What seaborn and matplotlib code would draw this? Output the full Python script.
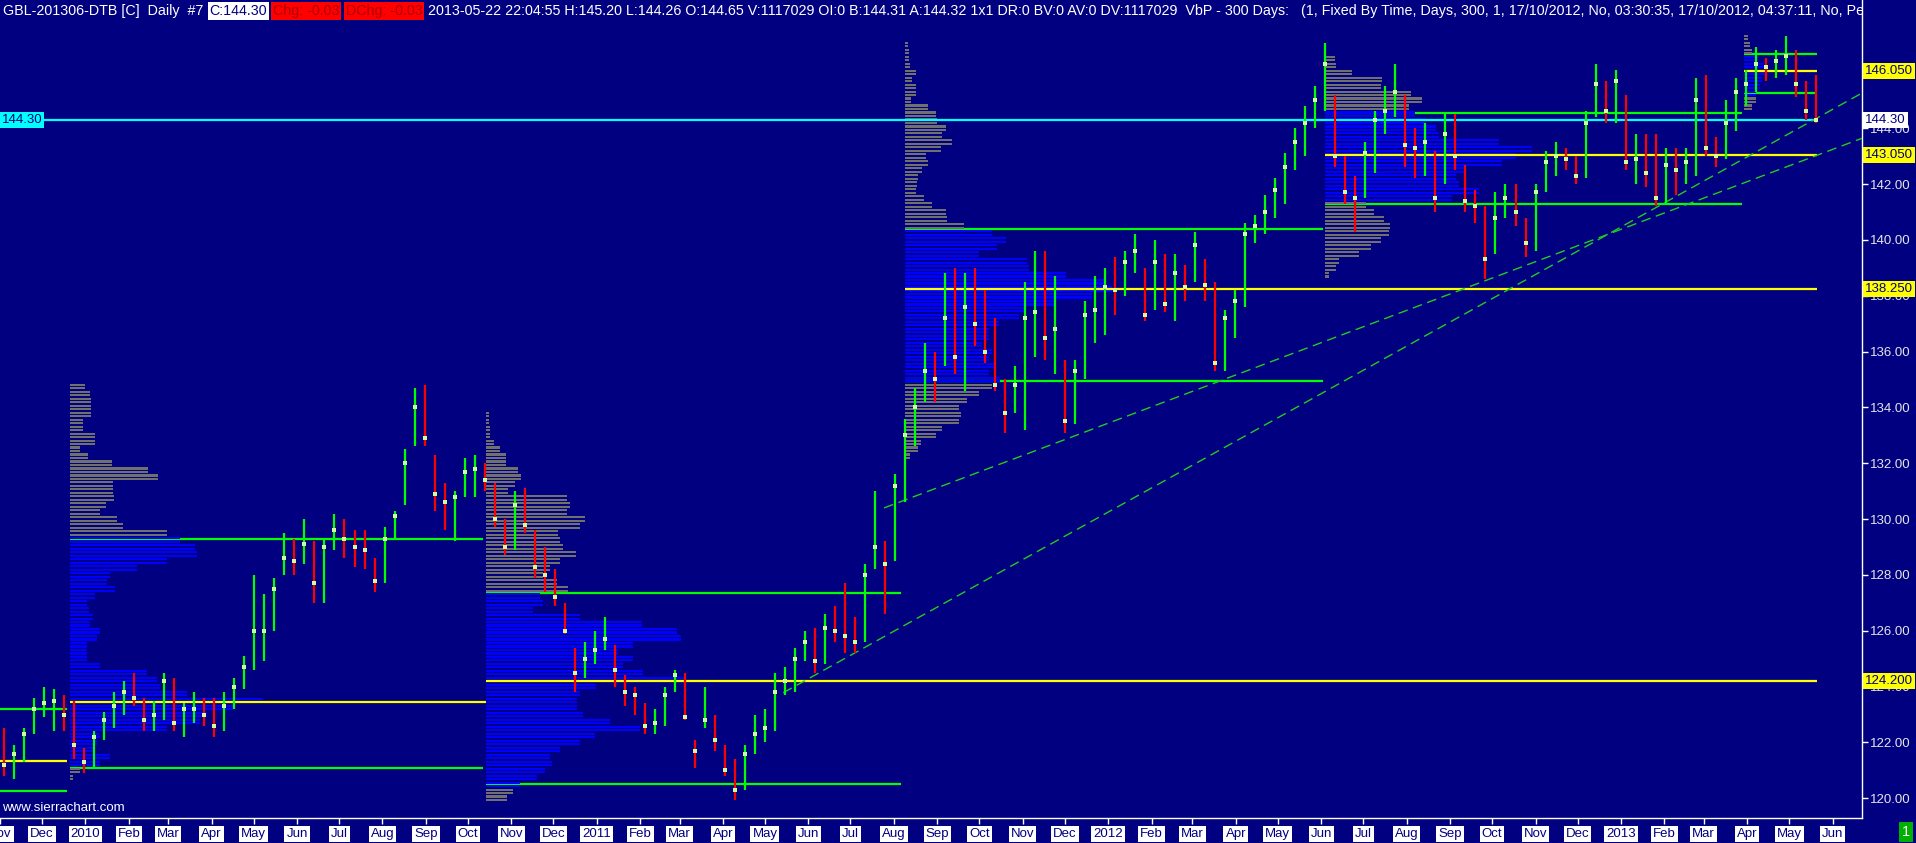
import matplotlib
matplotlib.use('Agg')
import matplotlib.pyplot as plt
import matplotlib.dates as mdates
import seaborn as sns
import numpy as np
import pandas as pd

# weekly bars (Nov 2009 - May 2013)
close = [121.2, 121.6, 122.3, 123.2, 123.4, 123.5, 123.0, 121.9, 121.3, 122.2,
         122.8, 123.3, 123.8, 123.6, 122.8, 123.0, 124.2, 122.7, 123.2, 123.2,
         123.0, 122.6, 123.3, 124.0, 124.7, 126.0, 126.0, 127.5, 128.6, 128.5,
         129.1, 127.7, 129.0, 129.6, 129.3, 129.0, 128.9, 127.8, 129.3, 130.1,
         132.0, 134.0, 132.9, 130.9, 130.6, 130.8, 131.7, 131.8, 131.4, 130.0,
         129.0, 130.5, 129.8, 128.3, 128.0, 127.2, 126.0, 124.5, 125.0, 125.3,
         125.7, 124.6, 123.8, 123.7, 122.6, 122.7, 123.7, 124.4, 122.9, 121.7,
         122.8, 122.1, 121.0, 120.3, 121.6, 122.3, 122.5, 123.8, 124.2, 125.0,
         125.6, 124.9, 126.1, 126.0, 125.8, 125.6, 128.0, 129.0, 128.4, 131.2,
         133.0, 134.0, 135.3, 135.0, 137.2, 135.8, 137.6, 137.0, 136.0, 134.8,
         133.8, 134.8, 137.2, 137.4, 136.5, 136.8, 133.5, 135.3, 137.3, 137.5,
         138.3, 138.2, 139.2, 139.6, 137.3, 139.2, 137.7, 138.8, 138.3, 139.8,
         138.4, 135.6, 137.2, 137.8, 140.2, 140.5, 141.0, 141.8, 142.6, 143.5,
         144.2, 145.0, 146.3, 143.0, 141.7, 141.5, 143.1, 144.3, 144.6, 145.3,
         143.4, 143.3, 143.5, 141.5, 143.8, 143.0, 141.4, 141.2, 139.3, 140.8,
         141.5, 141.0, 139.9, 141.7, 142.8, 143.0, 142.9, 142.3, 144.2, 145.6,
         144.6, 145.7, 142.8, 142.9, 142.4, 141.5, 142.7, 142.5, 142.8, 145.0,
         143.3, 143.0, 144.2, 145.3, 145.6, 146.3, 146.2, 146.4, 146.6, 145.6,
         144.6, 144.3]
high = [122.5, 121.9, 122.5, 123.6, 124.0, 123.9, 123.7, 123.5, 121.8, 122.4,
        123.1, 123.8, 124.2, 124.5, 123.6, 123.5, 124.5, 124.3, 123.4, 123.8,
        123.6, 123.6, 123.8, 124.3, 125.1, 128.0, 127.3, 127.9, 129.5, 129.3,
        130.0, 129.2, 129.3, 130.2, 130.0, 129.6, 129.6, 128.6, 129.7, 130.3,
        132.5, 134.7, 134.8, 132.3, 131.3, 131.0, 132.2, 132.3, 132.0, 131.3,
        130.0, 131.0, 131.1, 129.6, 129.0, 128.2, 127.0, 125.4, 125.6, 126.0,
        126.5, 125.5, 124.4, 124.0, 123.4, 123.2, 124.0, 124.6, 124.5, 122.1,
        124.0, 123.0, 121.9, 121.4, 121.9, 123.0, 123.2, 124.5, 124.7, 125.4,
        126.0, 126.1, 126.6, 126.9, 127.7, 126.5, 128.4, 131.0, 129.2, 131.6,
        133.6, 134.7, 136.3, 136.0, 138.8, 139.0, 138.8, 139.0, 138.2, 137.2,
        135.0, 135.5, 138.5, 139.6, 139.6, 138.7, 135.7, 135.7, 137.8, 138.7,
        139.0, 139.4, 139.6, 140.2, 139.0, 140.0, 139.5, 139.5, 139.1, 140.3,
        139.3, 138.5, 137.5, 138.2, 140.6, 140.9, 141.6, 142.2, 143.1, 144.0,
        144.8, 145.5, 147.05, 145.2, 143.0, 142.3, 143.5, 144.6, 145.5, 146.3,
        145.2, 144.0, 144.2, 143.2, 144.5, 144.5, 142.7, 141.8, 141.2, 141.7,
        142.0, 142.0, 140.8, 142.0, 143.2, 143.5, 143.3, 143.0, 144.6, 146.3,
        145.7, 146.1, 145.2, 143.8, 143.8, 143.8, 143.3, 143.3, 143.3, 145.8,
        145.9, 143.7, 145.0, 145.8, 146.1, 146.9, 146.5, 146.8, 147.3, 146.8,
        145.7, 145.9]
low = [120.8, 120.7, 121.3, 122.3, 122.9, 122.4, 122.4, 121.4, 120.9, 121.1,
       122.1, 122.5, 123.0, 123.3, 122.4, 122.4, 122.8, 122.4, 122.2, 122.7,
       122.6, 122.2, 122.4, 123.2, 123.9, 124.6, 124.9, 126.0, 128.0, 128.0,
       128.4, 127.0, 127.0, 128.9, 128.6, 128.3, 128.2, 127.4, 127.7, 129.3,
       130.5, 132.6, 132.6, 130.3, 129.6, 129.2, 130.8, 130.8, 131.0, 129.7,
       128.7, 128.9, 129.5, 127.9, 127.4, 126.9, 125.9, 123.8, 124.3, 124.8,
       125.3, 124.0, 123.3, 123.0, 122.3, 122.3, 122.6, 123.8, 122.8, 121.1,
       122.5, 121.7, 120.8, 119.95, 120.3, 121.6, 122.0, 122.4, 123.7, 123.8,
       124.9, 124.5, 124.8, 125.6, 125.2, 125.2, 125.6, 128.2, 126.6, 128.5,
       130.6, 132.6, 134.2, 134.2, 135.5, 135.2, 134.6, 136.2, 135.6, 134.6,
       133.1, 133.8, 133.2, 135.8, 135.7, 135.2, 133.1, 133.4, 135.0, 136.3,
       136.6, 137.3, 138.0, 138.8, 137.1, 137.5, 137.4, 137.1, 137.8, 138.5,
       137.8, 135.3, 135.3, 136.5, 137.6, 139.9, 140.2, 140.8, 141.3, 142.5,
       143.0, 144.0, 144.6, 142.6, 141.3, 140.3, 141.5, 142.4, 143.8, 144.4,
       142.6, 142.2, 142.3, 141.0, 142.0, 142.5, 141.0, 140.6, 138.6, 139.5,
       140.8, 140.5, 139.4, 139.6, 141.7, 142.3, 142.5, 142.0, 142.2, 144.4,
       144.2, 144.2, 142.5, 142.0, 141.9, 141.2, 141.3, 141.6, 142.0, 142.3,
       143.0, 142.6, 142.9, 143.9, 144.8, 145.3, 145.7, 145.8, 145.9, 145.1,
       144.3, 144.2]

# volume by price profiles, rows of 0.25 from the top price down
vbp_top = [134.75, 133.75, 147.0, 146.5, 147.25]
vbp_start = ['2009-12-21', '2010-10-14', '2011-08-09', '2012-06-04', '2013-03-30']
vbp_a = [15, 20, 21, 21, 21, 13, 13, 25, 25, 10, 18, 42, 78, 88, 43, 43, 44, 36, 30, 47,
         53, 97, 110, 125, 127, 97, 67, 40, 37, 45, 25, 17, 19, 23, 20, 30, 27, 17, 17, 17,
         30, 77, 87, 90, 117, 193, 163, 137, 130, 97, 30, 27, 23, 40, 30, 10, 3]
vbp_b = [3, 3, 4, 4, 8, 14, 20, 20, 32, 35, 29, 22, 81, 84, 81, 99, 94, 72, 74, 77,
         90, 74, 64, 57, 71, 82, 54, 57, 47, 94, 156, 191, 195, 147, 132, 147, 137, 157, 200, 110,
         94, 91, 91, 97, 124, 154, 109, 94, 74, 64, 66, 59, 51, 34, 27, 21]
vbp_c = [3, 4, 4, 5, 11, 7, 11, 11, 6, 23, 31, 32, 41, 37, 47, 36, 21, 23, 17, 13,
         12, 11, 19, 27, 41, 42, 59, 87, 101, 92, 74, 122, 124, 161, 201, 207, 187, 151, 121, 114,
         94, 84, 84, 77, 87, 84, 89, 84, 95, 87, 74, 62, 54, 56, 54, 37, 31, 16, 13, 5]
vbp_d = [10, 11, 27, 57, 56, 86, 97, 84, 90, 101, 111, 114, 174, 207, 191, 177, 141, 131, 134, 154,
         127, 41, 49, 59, 65, 64, 56, 46, 34, 14, 11, 4]
vbp_e = [4, 6, 8, 14, 20, 22, 18, 16, 12, 12, 8]

# value area high / point of control / value area low of each profile
va_high = [123.2, 129.3, 127.35, 140.4, 144.55, 146.65]
poc = [121.35, 123.45, 124.2, 138.25, 143.05, 146.05]
va_low = [120.25, 121.1, 120.5, 134.95, 141.3, 145.25]
level_start = ['2009-11-01', '2009-12-21', '2010-10-14', '2011-08-09', '2012-06-04', '2013-03-30']
va_end = ['2009-12-19', '2010-10-12', '2011-08-06', '2012-06-02', '2013-03-28', '2013-05-21']
poc_end = ['2009-12-19', '2010-10-14', '2013-05-21', '2013-05-21', '2013-05-21', '2013-05-21']

last_price = 144.30
trend_dates = [['2011-07-25', '2013-06-22'], ['2011-05-14', '2013-06-22']]
trend_prices = [[130.4, 143.64], [123.78, 145.26]]

NAVY = '#000080'
GREEN = '#00ff00'
W, H = 1916, 843
PX_PER_DAY = 1862 / 1329.0

sns.set_theme(style='dark', rc={'axes.facecolor': NAVY, 'figure.facecolor': NAVY})
plt.rcParams['font.family'] = ['Liberation Sans', 'DejaVu Sans']

fig = plt.figure(figsize=(W / 100, H / 100), dpi=100)
ax = fig.add_axes([0, 25 / H, 1862 / W, 818 / H])
ax.set_facecolor(NAVY)

dnum = lambda s: mdates.date2num(pd.Timestamp(s))

# value area lines (under the histograms)
for i in range(len(poc)):
    ax.hlines([va_high[i], va_low[i]], dnum(level_start[i]), dnum(va_end[i]),
              colors=GREEN, lw=1.6, zorder=1)

# histograms, each row drawn as two thin strokes like the platform does
for top, start, vols, hi, lo in zip(vbp_top, vbp_start, [vbp_a, vbp_b, vbp_c, vbp_d, vbp_e],
                                    va_high[1:], va_low[1:]):
    levels = top - 0.25 * np.arange(len(vols))
    cols = ['#0000ff' if lo <= lv <= hi else '#707070' for lv in levels]
    widths = np.array(vols) / PX_PER_DAY
    for off in (0.0625, -0.0625):
        ax.barh(levels + off, widths, height=0.075, left=dnum(start),
                color=cols, linewidth=0, zorder=2)

# points of control
for i in range(len(poc)):
    ax.hlines(poc[i], dnum(level_start[i]), dnum(poc_end[i]), colors='#ffff00', lw=1.6, zorder=3)

ax.hlines(last_price, dnum('2009-11-01'), dnum('2013-05-21'), colors='#00ffff', lw=1.6, zorder=3)

for d, p in zip(trend_dates, trend_prices):
    sns.lineplot(x=[dnum(v) for v in d], y=p, ax=ax, color='#22cc22', lw=1,
                 linestyle=(0, (7, 4)), zorder=3)

# price bars
bar_x = mdates.date2num(pd.date_range('2009-11-04', '2013-05-20', periods=len(close)))
prev = [close[0] + 1] + close[:-1]
bar_cols = [GREEN if c >= p else '#ff0000' for c, p in zip(close, prev)]
ax.vlines(bar_x, low, high, colors=bar_cols, lw=1.6, zorder=4)
sns.scatterplot(x=bar_x, y=close, ax=ax, marker='s', s=9, color='#ccff99',
                linewidth=0, zorder=5)

ax.set_xlim(dnum('2009-11-01'), dnum('2013-06-22'))
ax.set_ylim(119.294, 148.592)
ax.set_xlabel('')
ax.set_ylabel('')
ax.grid(False)

# axes decoration
for s in ['top', 'left']:
    ax.spines[s].set_visible(False)
for s in ['right', 'bottom']:
    ax.spines[s].set_visible(True)
    ax.spines[s].set_color('white')
    ax.spines[s].set_linewidth(1)

months = pd.date_range('2009-11-01', '2013-06-01', freq='MS')
ax.set_xticks(mdates.date2num(months))
ax.set_xticklabels([str(m.year) if m.month == 1 else m.strftime('%b') for m in months])
ax.tick_params(axis='x', bottom=True, colors='white', labelcolor=NAVY, length=4, width=1,
               labelsize=9.5, pad=3)
for lbl in ax.get_xticklabels():
    lbl.set_bbox(dict(boxstyle='square,pad=0.15', facecolor='white', edgecolor='none'))

ax.yaxis.tick_right()
yt = np.arange(120, 147, 2)
ax.set_yticks(yt)
ax.set_yticklabels([f'{v:.2f}' for v in yt])
ax.tick_params(axis='y', right=True, left=False, colors='white', labelcolor='#e6e6e6',
               length=4, width=1, labelsize=9.5, pad=2)

ytr = ax.get_yaxis_transform()
for v in [poc[5], poc[4], poc[3], poc[2]]:
    ax.text(1.0017, v, f'{v:.3f}', transform=ytr, ha='left', va='center', fontsize=9.5,
            color=NAVY, clip_on=False, zorder=6,
            bbox=dict(boxstyle='square,pad=0.15', facecolor='#ffff00', edgecolor='none'))
ax.text(1.0017, last_price, f'{last_price:.2f}', transform=ytr, ha='left', va='center',
        fontsize=9.5, color=NAVY, clip_on=False, zorder=6,
        bbox=dict(boxstyle='square,pad=0.15', facecolor='white', edgecolor='none'))
ax.text(0.001, last_price, f'{last_price:.2f}', transform=ytr, ha='left', va='center',
        fontsize=9.5, color=NAVY, zorder=6,
        bbox=dict(boxstyle='square,pad=0.15', facecolor='#00ffff', edgecolor='none'))

# title line
title_parts = [
    ('GBL-201306-DTB [C]  Daily  #7', 'white', None),
    ('C:144.30', NAVY, 'white'),
    ('Chg: -0.03', '#b00000', '#ff0000'),
    ('DChg: -0.03', '#b00000', '#ff0000'),
    ('2013-05-22 22:04:55 H:145.20 L:144.26 O:144.65 V:1117029 OI:0 B:144.31 A:144.32 '
     '1x1 DR:0 BV:0 AV:0 DV:1117029  VbP - 300 Days:   (1, Fixed By Time, Days, 300, 1, '
     '17/10/2012, No, 03:30:35, 17/10/2012, 04:37:11, No, Per', 'white', None),
]
fig.canvas.draw()
rend = fig.canvas.get_renderer()
xp = 3
for txt, fg, bg in title_parts:
    kw = {}
    if bg:
        kw['bbox'] = dict(boxstyle='square,pad=0.12', facecolor=bg, edgecolor='none')
    t = fig.text(xp / W, 1 - 11 / H, txt, color=fg, fontsize=10.25, ha='left', va='center', **kw)
    t.set_clip_box(ax.bbox)
    t.set_clip_on(True)
    xp = t.get_window_extent(rend).x1 + 6

fig.text(2 / W, 1 - 808 / H, 'www.sierrachart.com', color='white', fontsize=9.5,
         ha='left', va='center')
fig.text(1906 / W, 1 - 832 / H, '1', color='white', fontsize=10.5, ha='center', va='center',
         bbox=dict(boxstyle='square,pad=0.2', facecolor='#00b000', edgecolor='none'))

fig.savefig('out.png', dpi=100, facecolor=NAVY)
